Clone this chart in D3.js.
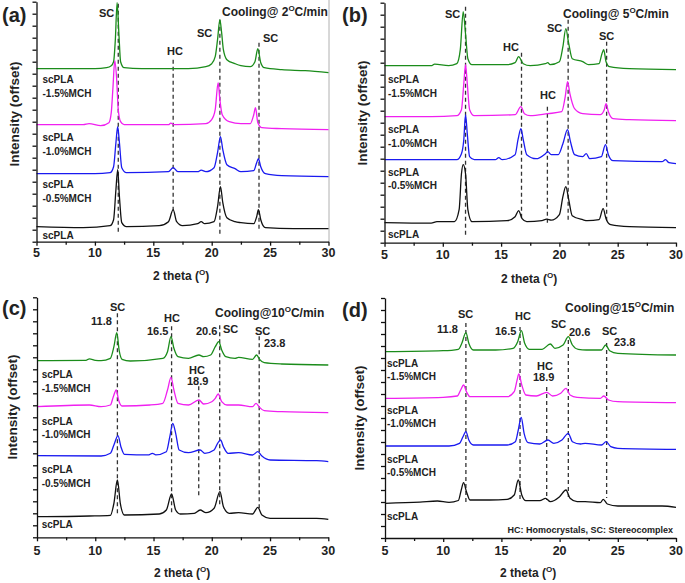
<!DOCTYPE html>
<html><head><meta charset="utf-8">
<script src="https://cdn.jsdelivr.net/npm/d3@7/dist/d3.min.js"></script>
<style>
body{margin:0;background:#fff}
svg{display:block}
text{font-family:"Liberation Sans",Arial,sans-serif;font-weight:bold;fill:#222}
</style>
</head><body>
<svg id="chart" width="685" height="583"></svg>
<script>
// ---------------- DATA ----------------
const xTicks = [5, 10, 15, 20, 25, 30];
const xMinorTicks = [7.5, 12.5, 17.5, 22.5, 27.5];
const sampleLabels = [["scPLA", "-1.5%MCH"], ["scPLA", "-1.0%MCH"], ["scPLA", "-0.5%MCH"], ["scPLA"]];
const seriesColors = ["#1b8c1b", "#f020f0", "#1a1af0", "#111111"];
const panelLetters = ["(a)", "(b)", "(c)", "(d)"];
const coolingRates = ["2", "5", "10", "15"];
const footnote = "HC: Homocrystals, SC: Stereocomplex";

// panel (a) 2 C/min  [2theta, intensity offset]
const a_green = [[5,173],[10,173],[11,174],[11.4,176],[11.6,180],[11.75,202],[11.9,239],[12.05,209],[12.2,180],[12.5,174],[14,173],[16,173],[18,173],[19.5,175],[20,178],[20.3,185],[20.5,202],[20.7,222],[20.85,209],[21,192],[21.3,182],[22,178],[22.5,176],[23.3,175],[23.7,180],[23.95,193],[24.2,179],[24.5,174],[26,172],[28,171],[30,169]];
const a_magenta = [[5,117],[9,117],[9.5,118],[10.5,116],[11.2,119],[11.4,129],[11.55,155],[11.7,181],[11.85,165],[12,132],[12.2,120],[12.5,117],[16.3,117],[16.5,118.5],[16.8,117],[19.5,118],[20,122],[20.3,132],[20.55,159],[20.7,142],[20.9,127],[21.5,120],[22.5,118],[23.3,118],[23.6,127],[23.75,134],[23.95,119],[24.3,114],[26,113],[30,112]];
const a_blue = [[5,68],[10,68],[11.3,69],[11.6,75],[11.8,99],[11.95,115],[12.1,99],[12.3,74],[12.7,69],[16.3,70],[16.7,74],[17.1,70],[18.8,70],[19.1,71.5],[19.5,70],[20.2,74],[20.5,89],[20.75,105],[20.95,92],[21.3,77],[22,73],[22.5,70],[23.6,71],[23.85,79],[24,83],[24.2,75],[24.6,68],[26,66],[30,65]];
const a_black = [[5,15],[9,14],[11.3,16],[11.6,22],[11.8,52],[11.95,72],[12.1,45],[12.3,19],[12.7,15],[15.5,16],[16.3,20],[16.7,32],[17,20],[17.5,16],[18.8,18],[19.1,20],[19.4,18],[20.2,20],[20.5,35],[20.75,55],[20.95,39],[21.3,24],[22,20],[22.5,19],[23.6,18],[23.85,25],[24,32],[24.2,22],[24.6,14],[27,13],[30,13]];
const a_dashes = [[12.0,238,8],[16.7,182,28],[20.7,222,8],[24.05,199,12]];

// panel (b) 5 C/min
const b_green = [[5,177],[9,177],[9.3,178.5],[10.5,177],[11.2,179],[11.5,193],[11.75,231],[11.95,209],[12.15,184],[12.5,178],[15.5,178],[16.2,180],[16.5,186],[16.9,179],[17.5,177],[18.8,179],[19,180],[19.2,178],[20,181],[20.3,196],[20.55,214],[20.8,199],[21.1,184],[22,181],[22.5,178],[23.4,179],[23.65,189],[23.8,193],[24,181],[24.3,176],[26,174],[30,173]];
const b_magenta = [[5,126],[9,126],[11.2,127],[11.6,133],[11.8,159],[11.95,178],[12.1,159],[12.3,133],[12.7,127],[16.2,128],[16.7,136],[17,129],[17.5,127],[19,129],[20.2,131],[20.5,146],[20.7,161],[20.9,149],[21.3,134],[22,129],[23.5,128],[23.85,133],[24,139],[24.2,131],[24.6,124],[26,123],[30,122]];
const b_blue = [[5,83],[11.2,83],[11.6,89],[11.8,103],[11.95,128],[12.1,109],[12.3,86],[12.7,83],[14.5,83],[14.8,85],[15.1,83],[16.2,88],[16.45,103],[16.7,114],[16.9,103],[17.2,88],[18,84],[18.8,89],[19,91],[19.3,88],[19.9,88],[20.3,99],[20.7,113],[20.95,101],[21.3,88],[22,86],[22.3,89],[22.6,84],[23.6,86],[23.95,98],[24.2,88],[24.6,82],[28.8,81],[29.1,83],[29.4,80],[30,79]];
const b_black = [[5,20],[9,19.5],[9.5,21],[11,21],[11.4,33],[11.6,69],[11.75,78],[11.95,69],[12.15,33],[12.5,21],[15.5,22],[16.2,26],[16.5,32],[16.8,24],[17.2,21],[18.5,22],[18.9,23.5],[19.3,22.5],[20,28],[20.3,46],[20.55,56],[20.8,43],[21.1,27],[22,23],[22.4,22],[23.4,23],[23.75,34],[24,24],[24.4,18],[26,16],[30,15]];
const b_dashes = [[11.95,236,8],[16.75,190,23],[18.97,136,20],[20.75,223,23],[24.05,201,21]];

// panel (c) 10 C/min
const c_green = [[5,176.6],[9.2,177],[9.5,178.5],[10,177],[10.5,176.6],[11.3,179],[11.6,190.6],[11.85,204.6],[12.05,187],[12.3,178],[13,176.3],[15.8,179],[16.2,185.6],[16.5,200.6],[16.75,189],[17.1,180.6],[18,179],[18.9,182.3],[19.3,180.6],[19.9,182.3],[20.3,190.6],[20.6,195.6],[20.85,187.3],[21.2,180.6],[22,179],[22.3,180],[23.5,178],[23.85,182.3],[24.1,178],[24.5,174.6],[26,173.3],[30,172.3]];
const c_magenta = [[5,130.6],[9.5,132.3],[10.5,130.6],[11.3,132.3],[11.55,140.6],[11.8,147.3],[12,137.3],[12.3,131.3],[14.7,132.3],[15.8,134],[16.2,147.3],[16.5,160],[16.75,147.3],[17.1,134],[18,132.3],[18.9,137.3],[19.3,133.3],[20,135.6],[20.3,139],[20.55,143.3],[20.85,135.6],[21.3,132.3],[22.3,132.3],[23.5,130.6],[23.8,134],[24.1,130],[24.5,126.6],[26,125.6],[30,124.6]];
const c_blue = [[5,81.6],[10.5,81.3],[11.3,84],[11.6,92.3],[11.95,101.6],[12.2,90.6],[12.5,83],[14.6,82.5],[14.9,84],[15.2,82.5],[16.1,85.6],[16.4,100.6],[16.65,114],[16.9,104],[17.2,87.3],[18,84.6],[19,87.3],[19.4,84],[20.2,87.3],[20.5,94],[20.75,97.3],[21,90.6],[21.4,84],[22.3,84.6],[23.5,82.3],[23.95,85.6],[24.3,81.3],[25,77.3],[29,76.6],[30,75.6]];
const c_black = [[5,20.6],[9.5,21.3],[11.3,22],[11.6,34],[11.9,57.3],[12.15,34],[12.5,22.3],[15.5,23.3],[16.1,27.3],[16.55,43.3],[16.9,27.3],[17.3,23.3],[18.5,24],[19,27.3],[19.5,24.6],[20.2,29],[20.7,45.6],[21,30.6],[21.5,24],[22.3,24.6],[23.5,23.3],[23.95,30],[24.3,22.3],[25,19],[29,19],[30,18]];
const c_dashes = [[11.9,224,24],[16.55,211,24],[18.88,151,39],[20.68,212,32],[24.07,201,27]];

// panel (d) 15 C/min
const d_green = [[5,186.3],[10,187.3],[11.3,188.7],[11.6,194.7],[11.95,205.3],[12.2,194.7],[12.6,188],[14.5,188],[16,189.7],[16.4,196.3],[16.72,207.3],[17,194.7],[17.4,188.7],[18.5,188.7],[19.2,194],[19.6,189.7],[20.3,193],[20.75,201.3],[21.1,193],[21.6,188.7],[22.3,188],[23.6,188],[23.95,193],[24.3,187.3],[25,184.7],[30,183]];
const d_magenta = [[5,139.7],[10,140.7],[11.2,142],[11.5,148],[11.75,153],[12,146.3],[12.3,141.3],[15.5,141.3],[16.1,146.3],[16.35,158],[16.5,164],[16.75,153],[17.1,143],[18,142],[18.9,145.7],[19.4,142],[20.1,144.7],[20.55,149.7],[20.9,143],[21.5,140.7],[23.5,139.7],[23.8,142],[24.2,138],[25,136.3],[30,135.3]];
const d_blue = [[5,92],[10.5,92],[11.4,94.7],[11.7,101.3],[11.95,106.3],[12.2,98],[12.6,93],[15.5,93],[16.2,96.3],[16.45,108],[16.7,120.7],[16.95,104.7],[17.3,95.3],[18.3,94],[19,98],[19.5,94.7],[20.2,98],[20.75,104.7],[21.1,96.3],[21.8,94],[22.2,94.7],[23.6,93],[24,96.3],[24.4,91.3],[25,89.7],[30,88.7]];
const d_black = [[5,34.7],[8,35.8],[9.5,37],[10.5,35.7],[11.3,37.5],[11.55,48],[11.75,55.3],[12,46.3],[12.3,38],[14,38],[15.5,38.7],[16.1,43],[16.45,58],[16.75,43],[17.1,37.3],[18.3,37.3],[18.8,39.7],[19.2,36.3],[20,41.3],[20.55,48],[20.9,39.7],[21.5,36.3],[22.2,36.3],[23.5,35.3],[23.75,38.7],[24.1,34],[25,32],[28.8,32],[30,30.7]];
const d_dashes = [[11.95,215,36],[16.6,211,38],[18.89,151,38],[20.75,198,41],[24.04,195,40]];

// ---------------- LAYOUT ----------------
const panels = [
  {series:[a_green,a_magenta,a_blue,a_black], dashes:a_dashes, left:36.5, right:328.5, bottom:241.7,
   letter:[2,22], cooling:[222,16], ylab:[14,114], xlab:[181,280], tickY:257,
   sampleX:42.5, sampleY:[[83,97],[141,155],[188,202],[239]],
   notes:[["SC",99,17],["HC",167,55],["SC",197,37],["SC",263,42]], border:true},
  {series:[b_green,b_magenta,b_blue,b_black], dashes:b_dashes, left:384.5, right:676, bottom:242.7,
   letter:[342,22], cooling:[563,18], ylab:[362,113], xlab:[529,283], tickY:259,
   sampleX:388, sampleY:[[83,97],[133,147],[176,189],[238]],
   notes:[["SC",445,18],["HC",503,51],["SC",547,32],["SC",599,40],["HC",540,99]]},
  {series:[c_green,c_magenta,c_blue,c_black], dashes:c_dashes, left:37, right:328.3, bottom:537.3,
   letter:[2,315], cooling:[215,317], ylab:[12.5,407], xlab:[182,577], tickY:555,
   sampleX:41.7, sampleY:[[378,392],[425,438],[473,487],[528]],
   notes:[["SC",110,311],["11.8",91,325],["HC",164,322],["16.5",147,335],["20.6",196,335],["SC",223,333],["SC",255,335],["23.8",264,347],["HC",189,374],["18.9",187,385]]},
  {series:[d_green,d_magenta,d_blue,d_black], dashes:d_dashes, left:385, right:676, bottom:538,
   letter:[342,317], cooling:[565,312], ylab:[359,418], xlab:[528,577], tickY:555,
   sampleX:387, sampleY:[[367,380],[414,427],[463,476],[520]],
   notes:[["SC",458,318],["11.8",437,333],["HC",515,320],["16.5",495,335],["SC",551,328],["20.6",569,336],["SC",602,335],["23.8",614,346],["HC",537,370],["18.9",533,381]],
   foot:[673,533]}
];

const svg = d3.select("#chart");

panels.forEach((p, i) => {
  const x = d3.scaleLinear().domain([5, 30]).range([p.left, p.right]);
  const y = d3.scaleLinear().domain([0, 240]).range([p.bottom, p.bottom - 240]);
  const g = svg.append("g");

  if (p.border) {
    g.append("line").attr("x1", p.right + 0.5).attr("x2", p.right + 0.5)
      .attr("y1", 0).attr("y2", p.bottom).attr("stroke", "#b0b0b0").attr("stroke-width", 1);
  }

  // dashed reference lines
  g.selectAll("line.dash").data(p.dashes).join("line")
    .attr("x1", d => x(d[0])).attr("x2", d => x(d[0]))
    .attr("y1", d => y(d[1])).attr("y2", d => y(d[2]))
    .attr("stroke", "#333").attr("stroke-width", 1.3).attr("stroke-dasharray", "4,3");

  // curves
  const line = d3.line().x(d => x(d[0])).y(d => y(d[1])).curve(d3.curveMonotoneX);
  p.series.forEach((s, k) => {
    g.append("path").datum(s).attr("d", line).attr("fill", "none")
      .attr("stroke", seriesColors[k]).attr("stroke-width", 1.3).attr("stroke-linejoin", "round");
  });

  // axes
  g.append("g").attr("transform", `translate(0,${p.bottom})`)
    .call(d3.axisBottom(x).tickValues(xTicks).tickSize(4).tickSizeOuter(0).tickFormat(""));
  g.append("g").attr("transform", `translate(0,${p.bottom})`)
    .call(d3.axisBottom(x).tickValues(xMinorTicks).tickSize(3).tickSizeOuter(0).tickFormat(""))
    .select(".domain").remove();
  g.append("g").attr("transform", `translate(${p.left},0)`)
    .call(d3.axisLeft(y).tickValues(d3.range(0, 241, 12)).tickSize(4).tickSizeOuter(0).tickFormat(""));
  g.selectAll(".domain, .tick line").attr("stroke", "#111").attr("stroke-width", 1.3);

  // tick labels
  g.selectAll("text.tl").data(xTicks).join("text").attr("class", "tl")
    .attr("x", d => x(d)).attr("y", p.tickY).attr("text-anchor", "middle")
    .style("font-size", "12.5px").text(d => d);

  // axis titles
  const xt = g.append("text").attr("x", p.xlab[0]).attr("y", p.xlab[1]).attr("text-anchor", "middle").style("font-size", "12px");
  xt.append("tspan").text("2 theta (");
  xt.append("tspan").attr("dy", -5).style("font-size", "8px").text("O");
  xt.append("tspan").attr("dy", 5).text(")");
  g.append("text").attr("transform", `translate(${p.ylab[0]},${p.ylab[1]}) rotate(-90)`)
    .attr("text-anchor", "middle").attr("dy", "0.35em").style("font-size", "13.5px").text("Intensity (offset)");

  // panel letter
  g.append("text").attr("x", p.letter[0]).attr("y", p.letter[1]).style("font-size", "20px").text(panelLetters[i]);

  // cooling rate label
  const ct = g.append("text").attr("x", p.cooling[0]).attr("y", p.cooling[1]).style("font-size", "12px");
  ct.append("tspan").text("Cooling@" + (coolingRates[i].length === 1 ? " " : "") + coolingRates[i]);
  ct.append("tspan").attr("dy", -5).style("font-size", "8px").text("O");
  ct.append("tspan").attr("dy", 5).text("C/min");

  // sample labels
  sampleLabels.forEach((lines, k) => {
    lines.forEach((t, j) => {
      g.append("text").attr("x", p.sampleX).attr("y", p.sampleY[k][j]).style("font-size", "10px").text(t);
    });
  });

  // peak notes
  g.selectAll("text.note").data(p.notes).join("text").attr("class", "note")
    .attr("x", d => d[1]).attr("y", d => d[2]).style("font-size", "11px").text(d => d[0]);

  if (p.foot) {
    g.append("text").attr("x", p.foot[0]).attr("y", p.foot[1]).attr("text-anchor", "end")
      .style("font-size", "9px").text(footnote);
  }
});
</script>
</body></html>
